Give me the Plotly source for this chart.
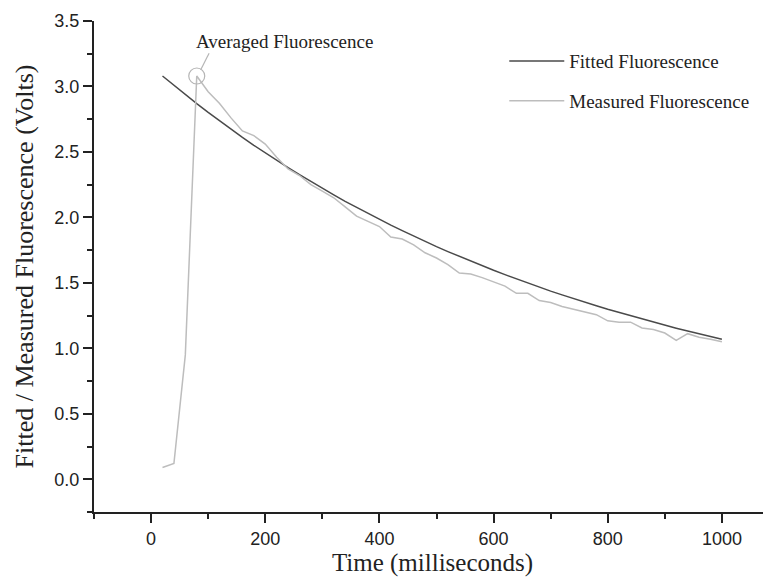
import plotly.graph_objects as go

# Time (ms)
time_ms = [20, 40, 60, 80, 100, 120, 140, 160, 180, 200, 220, 240, 260, 280, 300,
           320, 340, 360, 380, 400, 420, 440, 460, 480, 500, 520, 540, 560, 580, 600,
           620, 640, 660, 680, 700, 720, 740, 760, 780, 800, 820, 840, 860, 880, 900,
           920, 940, 960, 980, 1000]

fitted = [3.080, 3.008, 2.937, 2.869, 2.802, 2.736, 2.673, 2.611, 2.551, 2.492,
          2.435, 2.380, 2.326, 2.273, 2.222, 2.172, 2.123, 2.076, 2.030, 1.985,
          1.941, 1.899, 1.857, 1.817, 1.777, 1.739, 1.702, 1.666, 1.630, 1.596,
          1.563, 1.530, 1.498, 1.467, 1.437, 1.408, 1.379, 1.352, 1.325, 1.298,
          1.273, 1.248, 1.223, 1.200, 1.177, 1.154, 1.132, 1.111, 1.090, 1.070]

measured = [0.09, 0.12, 0.95, 3.08, 2.96, 2.87, 2.76, 2.66, 2.625, 2.56,
            2.46, 2.37, 2.32, 2.25, 2.20, 2.15, 2.08, 2.01, 1.97, 1.93,
            1.85, 1.835, 1.79, 1.73, 1.69, 1.64, 1.575, 1.567, 1.54, 1.51,
            1.475, 1.42, 1.42, 1.365, 1.35, 1.32, 1.30, 1.28, 1.257, 1.21,
            1.20, 1.20, 1.155, 1.143, 1.117, 1.061, 1.112, 1.084, 1.07, 1.05]

peak_time = 80
peak_value = 3.08

SERIF = "Liberation Serif, Times New Roman, serif"
SANS = "Liberation Sans, Arial, sans-serif"
INK = "#222222"

fig = go.Figure()
fig.add_trace(go.Scatter(x=time_ms, y=fitted, mode="lines", name="Fitted Fluorescence",
                         legendgroup="a",
                         line=dict(color="#4a4a4a", width=1.5)))
fig.add_trace(go.Scatter(x=time_ms, y=measured, mode="lines", name="Measured Fluorescence",
                         legendgroup="b",
                         line=dict(color="#bdbdbd", width=1.5)))

# circle around the averaged point
fig.add_shape(type="circle", xref="x", yref="y", xsizemode="pixel", ysizemode="pixel",
              xanchor=peak_time, yanchor=peak_value, x0=-8, x1=8, y0=-8, y1=8,
              line=dict(color="#b5b5b5", width=1.2))
# leader line
fig.add_shape(type="line", xref="x", yref="y", x0=87, y0=3.127, x1=101.6, y1=3.254,
              line=dict(color="#b5b5b5", width=1.2))
fig.add_annotation(x=75, y=3.34, xref="x", yref="y", xanchor="left", yanchor="middle",
                   text="Averaged Fluorescence", showarrow=False,
                   font=dict(family=SERIF, size=19, color=INK))

fig.update_layout(
    width=763, height=573,
    margin=dict(l=86, r=0, t=13, b=69),
    paper_bgcolor="white", plot_bgcolor="white",
    showlegend=True,
    legend=dict(x=0.606, y=0.957, xanchor="left", yanchor="top",
                font=dict(family=SERIF, size=19, color=INK),
                bgcolor="rgba(0,0,0,0)", tracegroupgap=12, itemwidth=55),
    xaxis=dict(range=[-100, 1086], dtick=200, tick0=0, showgrid=False, zeroline=False,
               showline=True, linecolor=INK, linewidth=2,
               ticks="outside", ticklen=9, tickwidth=2, tickcolor=INK,
               minor=dict(dtick=100, tick0=0, ticks="outside", ticklen=5, tickwidth=2,
                          tickcolor=INK, showgrid=False),
               tickfont=dict(family=SANS, size=18, color=INK),
               title=dict(text="Time (milliseconds)", standoff=6,
                          font=dict(family=SERIF, size=25, color=INK))),
    yaxis=dict(range=[-0.25, 3.5], dtick=0.5, tick0=0, tickformat=".1f",
               showgrid=False, zeroline=False,
               showline=True, linecolor=INK, linewidth=2,
               ticks="outside", ticklen=9, tickwidth=2, tickcolor=INK,
               minor=dict(dtick=0.25, tick0=0, ticks="outside", ticklen=5, tickwidth=2,
                          tickcolor=INK, showgrid=False),
               tickfont=dict(family=SANS, size=18, color=INK),
               title=dict(text="Fitted / Measured Fluorescence (Volts)", standoff=13,
                          font=dict(family=SERIF, size=26, color=INK))),
)

fig.write_html("out.html")
